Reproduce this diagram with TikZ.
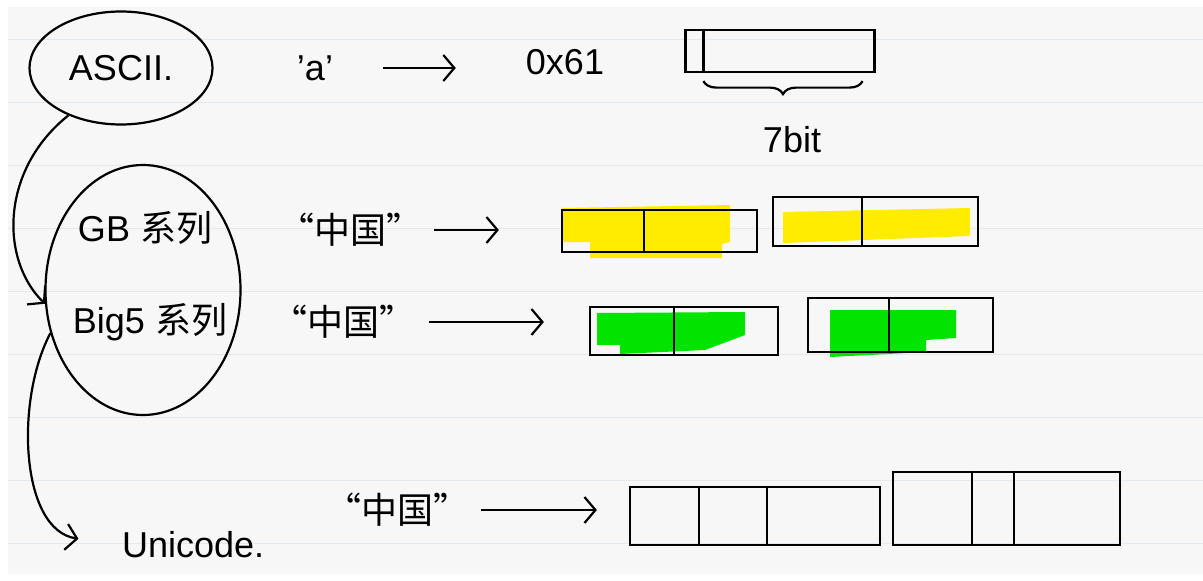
\documentclass[tikz,border=0pt]{standalone}
\usepackage{fontspec}
\setmainfont{Liberation Sans}
\newfontfamily\cjk{Noto Sans CJK SC}
\usetikzlibrary{shapes.geometric,decorations.pathreplacing,arrows.meta}

\begin{document}
\begin{tikzpicture}[x=1pt,y=-1pt]
  \definecolor{paper}{HTML}{F7F7F7}
  \definecolor{ruling}{HTML}{E2EAEF}
  \definecolor{hiyellow}{HTML}{FFEC00}
  \definecolor{higreen}{HTML}{00E400}
  \tikzstyle{ink}=[line width=2.2pt, black]
  \tikzstyle{hand}=[font=\fontsize{36}{42}\selectfont, inner sep=2pt]
  \tikzstyle{bubble}=[ink, draw, ellipse, inner sep=0pt]
  \tikzstyle{maps}=[ink, -{Straight Barb[length=11pt,width=26pt,line width=2.2pt]}]
  \tikzstyle{cell}=[ink, draw, inner sep=0pt]

  % paper
  \useasboundingbox (0,0) rectangle (1203,581);
  \fill[white] (0,0) rectangle (1203,581);
  \fill[paper] (8,7) rectangle (1203,574);
  \foreach \y in {39,102,...,544}
    \draw[ruling, line width=1pt] (8,\y) -- (1203,\y);

  % highlighter marks
  \fill[hiyellow] (562,208) -- (730,205) -- (730,242) -- (722,244) -- (722,258)
    -- (590,258) -- (590,242) -- (562,242) -- cycle;
  \fill[hiyellow] (783,212) -- (970,208) -- (970,236) -- (783,243) -- cycle;
  \fill[higreen] (597,313) -- (745,312) -- (745,335) -- (705,350) -- (620,354)
    -- (620,345) -- (597,345) -- cycle;
  \fill[higreen] (830,310) -- (956,310) -- (956,338) -- (926,340) -- (926,352)
    -- (830,357) -- cycle;

  % encodings
  \node[bubble, hand, minimum width=183pt, minimum height=113pt] (ascii) at (121,68) {ASCII.};
  \node[bubble, minimum width=195pt, minimum height=250pt] (family) at (143,290) {};
  \node[hand] (gb) at (145,228) {GB {\cjk 系列}};
  \node[hand] (big5) at (150,322) {Big5 {\cjk 系列}};
  \node[hand, anchor=west] (uni) at (120,545) {Unicode.};

  % ASCII row
  \node[hand] (chara) at (315,68) {'a'};
  \node[hand] (hexa) at (565,62) {0x61};
  \node[cell, minimum width=189pt, minimum height=42pt] (abyte) at (780,51) {};
  \draw[ink] ([xshift=19pt]abyte.north west) -- ([xshift=19pt]abyte.south west);
  \draw[ink, decorate, decoration={brace, mirror, amplitude=13pt}]
    ([xshift=19pt,yshift=-8pt]abyte.south west) -- ([xshift=-13pt,yshift=-8pt]abyte.south east);
  \node[hand] (bits) at (792,140) {7bit};
  \draw[maps, shorten <=48pt, shorten >=68pt] (chara.east) -- (chara.east -| hexa.west);

  % GB row
  \node[hand] (gbstr) at (350,230) {\cjk “中国”};
  \node[cell, minimum width=195pt, minimum height=42pt] (gbfirst) at (659.5,231) {};
  \node[cell, minimum width=205pt, minimum height=49pt] (gbsecond) at (875.5,221.5) {};
  \draw[ink] ([xshift=83pt]gbfirst.north west) -- ([xshift=83pt]gbfirst.south west);
  \draw[ink] ([xshift=90pt]gbsecond.north west) -- ([xshift=90pt]gbsecond.south west);
  \draw[maps, shorten <=10pt, shorten >=62pt] (gbstr.east) -- (gbstr.east -| gbfirst.west);

  % Big5 row
  \node[hand] (bigstr) at (343,322) {\cjk “中国”};
  \node[cell, minimum width=188pt, minimum height=48pt] (bigfirst) at (684,331) {};
  \node[cell, minimum width=185pt, minimum height=54pt] (bigsecond) at (900.5,325) {};
  \draw[ink] ([xshift=85pt]bigfirst.north west) -- ([xshift=85pt]bigfirst.south west);
  \draw[ink] ([xshift=82pt]bigsecond.north west) -- ([xshift=82pt]bigsecond.south west);
  \draw[maps, shorten <=12pt, shorten >=45pt] (bigstr.east) -- (bigstr.east -| bigfirst.west);

  % Unicode row
  \node[hand] (unistr) at (397,510) {\cjk “中国”};
  \node[cell, minimum width=250pt, minimum height=58pt] (unifirst) at (755,516) {};
  \node[cell, minimum width=227pt, minimum height=73pt] (unisecond) at (1006.5,508.5) {};
  \foreach \dx in {70,138}
    \draw[ink] ([xshift=\dx pt]unifirst.north west) -- ([xshift=\dx pt]unifirst.south west);
  \foreach \dx in {80,122}
    \draw[ink] ([xshift=\dx pt]unisecond.north west) -- ([xshift=\dx pt]unisecond.south west);
  \draw[maps, shorten <=10pt, shorten >=32pt] (unistr.east) -- (unistr.east -| unifirst.west);

  % evolution
  \draw[maps] (ascii.222) .. controls (0,170) and (0,260) .. (family.188);
  \draw[maps, shorten >=42pt] (family.205) .. controls (15,400) and (20,530) .. (uni.west);
\end{tikzpicture}
\end{document}
